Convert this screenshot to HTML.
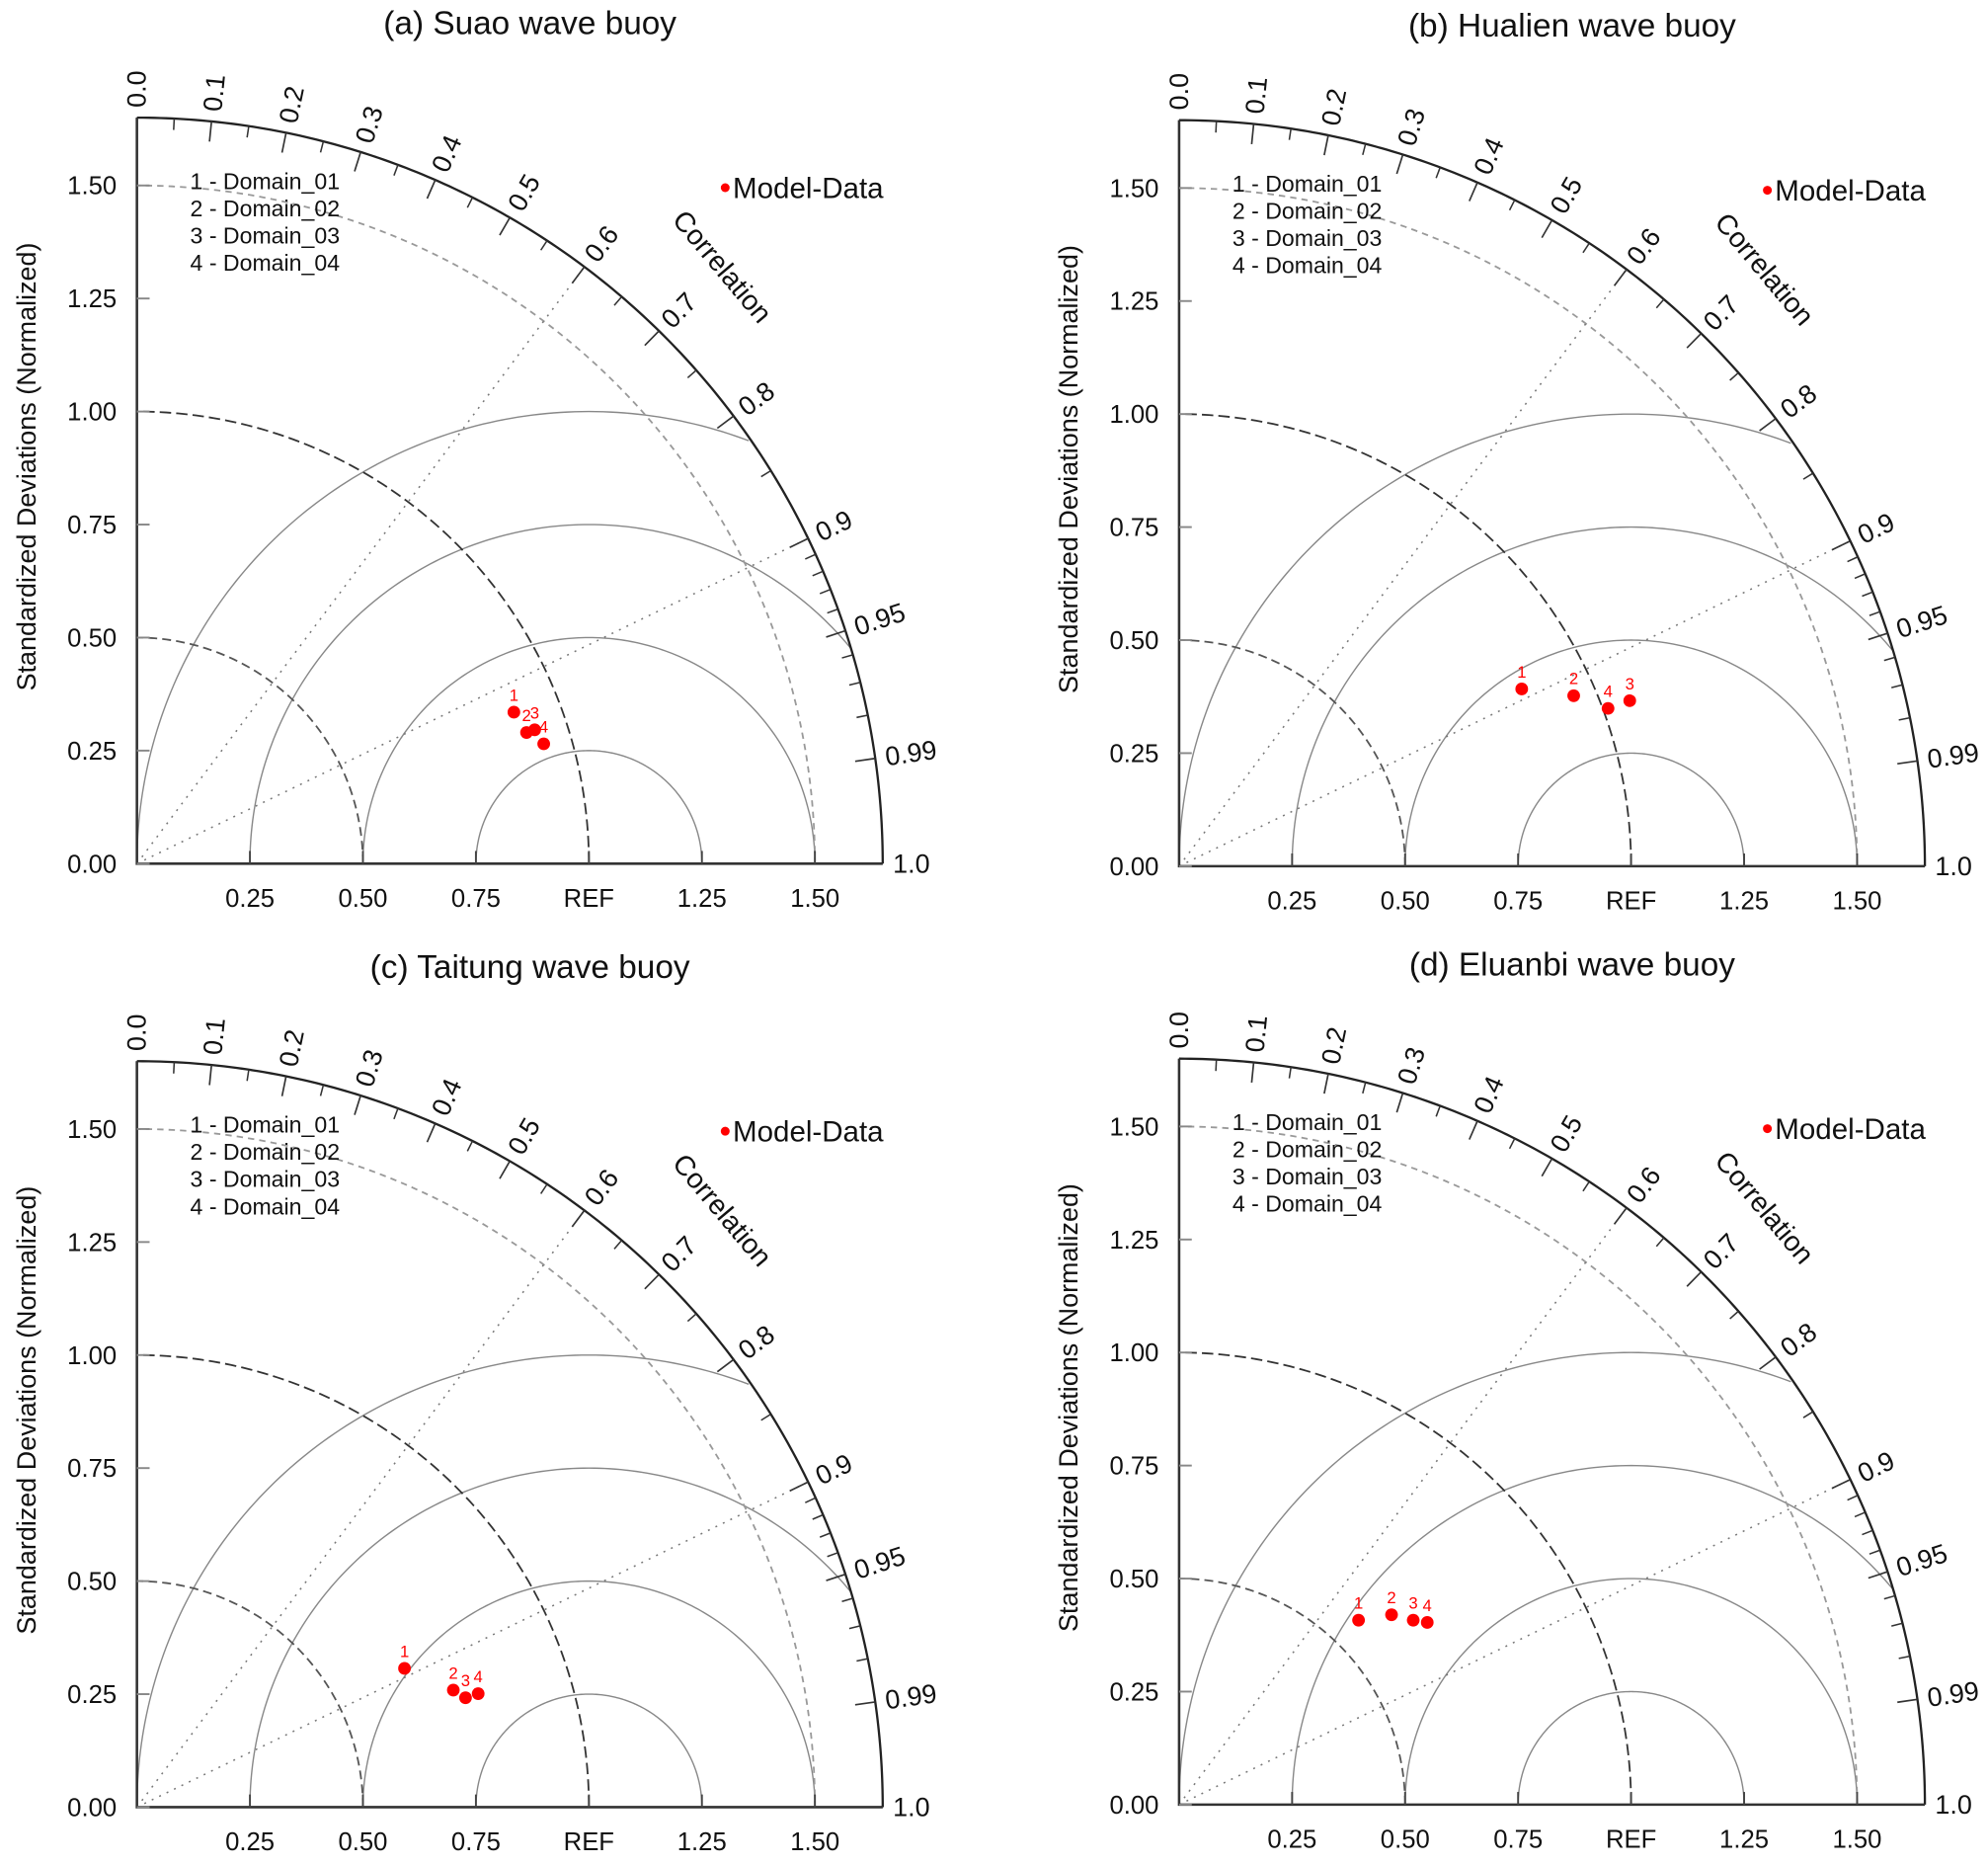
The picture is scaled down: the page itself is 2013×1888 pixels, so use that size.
<!DOCTYPE html>
<html><head><meta charset="utf-8"><style>
html,body{margin:0;padding:0;background:#fff}
svg{display:block}
text{font-family:"Liberation Sans",sans-serif;fill:#111}
</style></head><body>
<svg id="chart" width="2013" height="1888" viewBox="0 0 1568 1470.6" preserveAspectRatio="none" xmlns="http://www.w3.org/2000/svg"></svg>
<script>
const panelTitles = ["(a) Suao wave buoy","(b) Hualien wave buoy","(c) Taitung wave buoy","(d) Eluanbi wave buoy"];
const domainLabels = ["1 - Domain_01","2 - Domain_02","3 - Domain_03","4 - Domain_04"];
const pointIds = ["1","2","3","4"];
// normalized x (std*corr) and y (std*sin) for each panel
const ptsXA = [0.834,0.862,0.880,0.900];
const ptsYA = [0.335,0.290,0.296,0.265];
const ptsXB = [0.758,0.873,0.997,0.949];
const ptsYB = [0.392,0.377,0.366,0.349];
const ptsXC = [0.592,0.700,0.727,0.755];
const ptsYC = [0.307,0.259,0.242,0.251];
const ptsXD = [0.397,0.470,0.518,0.549];
const ptsYD = [0.408,0.420,0.408,0.403];
const stdTicks = [0,0.25,0.5,0.75,1.0,1.25,1.5];
const stdTickLabels = ["0.00","0.25","0.50","0.75","1.00","1.25","1.50"];
const xTickLabels = ["","0.25","0.50","0.75","REF","1.25","1.50"];
const corrMajor = [0,0.1,0.2,0.3,0.4,0.5,0.6,0.7,0.8,0.9,0.95,0.99,1.0];
const corrMajorLabels = ["0.0","0.1","0.2","0.3","0.4","0.5","0.6","0.7","0.8","0.9","0.95","0.99","1.0"];
const corrMinor = [0.05,0.15,0.25,0.35,0.45,0.55,0.65,0.75,0.85,0.91,0.92,0.93,0.94,0.96,0.97,0.98];
const rmsRadii = [0.25,0.5,0.75,1.0];
const origins = [[108,681],[930,683],[108,1425],[930,1423]];
const allX=[ptsXA,ptsXB,ptsXC,ptsXD], allY=[ptsYA,ptsYB,ptsYC,ptsYD];
const S=356.5, RMAX=1.65;
const NS="http://www.w3.org/2000/svg";
const svg=document.getElementById('chart');
function mk(tag,attrs,parent){const e=document.createElementNS(NS,tag);for(const k in attrs)e.setAttribute(k,attrs[k]);(parent||svg).appendChild(e);return e;}
function arcPath(cx,cy,r,a0,a1,n){let d="";for(let i=0;i<=n;i++){const a=a0+(a1-a0)*i/n;d+=(i?"L":"M")+(cx+r*Math.cos(a)).toFixed(2)+","+(cy-r*Math.sin(a)).toFixed(2);}return d;}

origins.forEach((o,p)=>{
  const ox=o[0], oy=o[1];
  const px=v=>ox+v*S, py=v=>oy-v*S;
  const g=mk('g',{});
  
  
  const t=mk('text',{x:ox+310,y:oy-654,'font-size':26,'text-anchor':'middle'},g);t.textContent=panelTitles[p];
  
  
  rmsRadii.forEach(r=>{
    let d="",started=false;
    for(let i=0;i<=200;i++){const a=Math.PI*i/200;const x=1+r*Math.cos(a),y=r*Math.sin(a);
      if(Math.hypot(x,y)<=RMAX){d+=(started?"L":"M")+px(x).toFixed(2)+","+py(y).toFixed(2);started=true;}else started=false;}
    const e=mk('path',{d:d,fill:'none',stroke:'#888','stroke-width':1.1},g);
    
    
  });
  [[0.5,'#555','7,4'],[1.0,'#333','9,4'],[1.5,'#999','5,4']].forEach(s=>{
    const e=mk('path',{d:arcPath(ox,oy,s[0]*S,0,Math.PI/2,120),fill:'none',stroke:s[1],'stroke-width':1.4,'stroke-dasharray':s[2]},g);
    
    
  });
  [0.6,0.9].forEach(c=>{const a=Math.acos(c);
    const e=mk('line',{x1:ox,y1:oy,x2:ox+RMAX*S*Math.cos(a),y2:oy-RMAX*S*Math.sin(a),stroke:'#777','stroke-width':1.2,'stroke-dasharray':'1.5,5'},g);
    
    
  });
  const ax=mk('path',{d:`M${ox},${py(RMAX)}L${ox},${oy}L${px(RMAX)},${oy}`,fill:'none',stroke:'#333','stroke-width':2},g);
  
  
  const oa=mk('path',{d:arcPath(ox,oy,RMAX*S,0,Math.PI/2,200),fill:'none',stroke:'#222','stroke-width':1.8},g);
  
  
  stdTicks.forEach((v,i)=>{
    mk('line',{x1:ox,y1:py(v),x2:ox+10,y2:py(v),stroke:'#888','stroke-width':1.5},g);
    const l=mk('text',{x:ox-16,y:py(v)+7,'font-size':20,'text-anchor':'end'},g);l.textContent=stdTickLabels[i];
    
    
    if(v>0){mk('line',{x1:px(v),y1:oy,x2:px(v),y2:oy-10,stroke:'#444','stroke-width':1.5},g);
      const xl=mk('text',{x:px(v),y:oy+34,'font-size':20,'text-anchor':'middle'},g);xl.textContent=xTickLabels[i];
      
      }
  });
  const yt=mk('text',{x:0,y:0,'font-size':21,'text-anchor':'middle',transform:`translate(${ox-80},${oy-313}) rotate(-90)`},g);
  yt.textContent="Standardized Deviations (Normalized)";
  
  
  corrMajor.forEach((c,i)=>{const a=Math.acos(c),R=RMAX*S;
    mk('line',{x1:ox+R*Math.cos(a),y1:oy-R*Math.sin(a),x2:ox+(R-16)*Math.cos(a),y2:oy-(R-16)*Math.sin(a),stroke:'#333','stroke-width':1.3},g);
    const deg=a*180/Math.PI, rr=R+8;
    const l=mk('text',{x:0,y:0,'font-size':21,'dominant-baseline':'central',transform:`translate(${ox+rr*Math.cos(a)},${oy-rr*Math.sin(a)}) rotate(${-deg})`},g);
    l.textContent=corrMajorLabels[i];
    
    
  });
  corrMinor.forEach(c=>{const a=Math.acos(c),R=RMAX*S;
    mk('line',{x1:ox+R*Math.cos(a),y1:oy-R*Math.sin(a),x2:ox+(R-9)*Math.cos(a),y2:oy-(R-9)*Math.sin(a),stroke:'#333','stroke-width':1.2},g);});
  const ct=mk('text',{x:0,y:0,'font-size':22,'text-anchor':'middle',transform:`translate(${ox+456},${oy-466}) rotate(50)`},g);
  ct.textContent="Correlation";
  
  
  domainLabels.forEach((s,i)=>{const l=mk('text',{x:ox+42,y:oy-532+i*21.5,'font-size':18},g);l.textContent=s;
    
    });
  const md=mk('circle',{cx:ox+464,cy:oy-533,r:3.5,fill:'#f00'},g);
  
  
  const mt=mk('text',{x:ox+470,y:oy-525,'font-size':23},g);mt.textContent="Model-Data";
  
  
  allX[p].forEach((xv,i)=>{const yv=allY[p][i];
    const c=mk('circle',{cx:px(xv),cy:py(yv),r:5,fill:'#f00'},g);
    
    
    const l=mk('text',{x:px(xv),y:py(yv)-9,'font-size':13,'text-anchor':'middle',style:'fill:#f00'},g);l.textContent=pointIds[i];
    
    
  });
});
</script>
</body></html>
